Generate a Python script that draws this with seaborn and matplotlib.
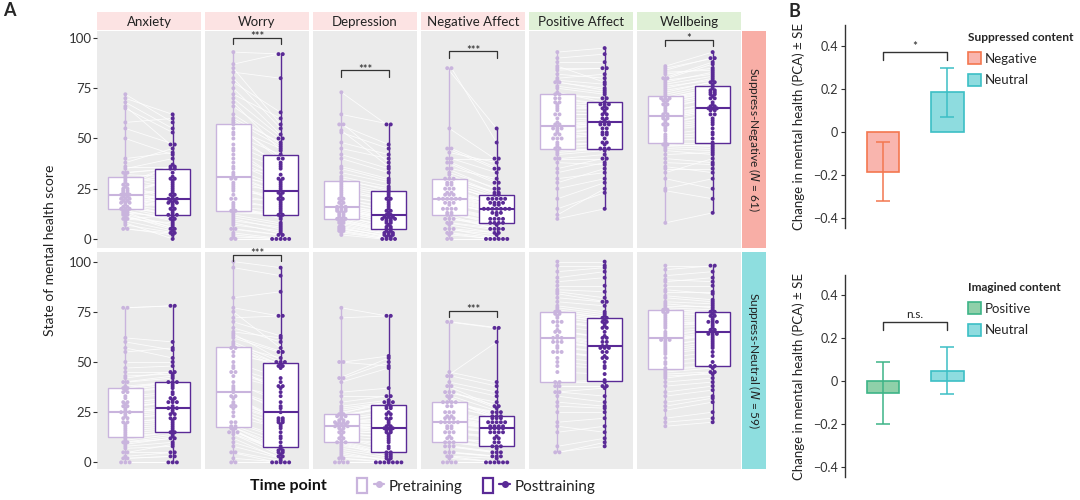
import numpy as np
import pandas as pd
import seaborn as sns
import matplotlib.pyplot as plt
from matplotlib.patches import Patch
from matplotlib.lines import Line2D
from matplotlib.legend_handler import HandlerTuple

sns.set_theme(style="white")
plt.rcParams["font.family"] = ["Lato", "DejaVu Sans"]

measures = ["Anxiety", "Worry", "Depression", "Negative Affect", "Positive Affect", "Wellbeing"]
group_labels = ["Suppress-Negative ($\\it{N}$ = 61)", "Suppress-Neutral ($\\it{N}$ = 59)"]
times = ["Pretraining", "Posttraining"]

# ---- Suppress-Negative group (N = 61), scores ----
neg_anxiety_pre = [22, 5, 33, 18, 66, 12, 25, 15, 28, 20, 72, 10, 30, 22, 16, 8, 38, 19, 24, 14,
                   58, 27, 11, 21, 35, 17, 5, 65, 23, 13, 31, 20, 9, 26, 18, 70, 15, 40, 22, 12,
                   29, 16, 55, 24, 7, 19, 33, 21, 14, 68, 27, 10, 36, 18, 23, 15, 50, 25, 20, 13, 32]
neg_anxiety_post = [20, 3, 35, 12, 47, 5, 28, 18, 36, 15, 58, 8, 25, 30, 12, 0, 45, 22, 19, 10,
                    60, 33, 6, 18, 40, 14, 2, 53, 20, 11, 27, 17, 4, 37, 21, 62, 13, 43, 24, 7,
                    30, 19, 47, 16, 3, 23, 35, 26, 9, 55, 18, 12, 36, 20, 29, 10, 42, 22, 15, 5, 31]
neg_worry_pre = [32, 0, 58, 14, 87, 20, 45, 10, 72, 28, 93, 5, 62, 35, 17, 2, 78, 25, 40, 12,
                 83, 50, 8, 30, 66, 16, 0, 75, 38, 15, 55, 22, 3, 47, 27, 85, 13, 60, 33, 7,
                 52, 18, 70, 42, 5, 24, 59, 31, 11, 80, 36, 9, 57, 20, 44, 14, 68, 30, 26, 1, 53]
neg_worry_post = [23, 0, 40, 12, 92, 15, 30, 5, 60, 17, 92, 2, 47, 26, 10, 0, 63, 20, 29, 8,
                  80, 38, 3, 22, 50, 14, 0, 52, 28, 11, 45, 18, 0, 37, 24, 57, 12, 48, 25, 4,
                  42, 16, 50, 30, 2, 21, 46, 27, 7, 55, 32, 6, 40, 19, 35, 13, 44, 23, 20, 0, 36]
neg_depression_pre = [15, 2, 28, 10, 73, 8, 20, 12, 45, 14, 62, 5, 33, 18, 10, 4, 53, 15, 22, 9,
                      57, 25, 6, 16, 36, 11, 3, 54, 19, 13, 30, 14, 7, 24, 17, 48, 10, 40, 15, 5,
                      29, 12, 35, 20, 4, 16, 31, 18, 8, 57, 21, 9, 27, 13, 23, 11, 42, 16, 14, 6, 26]
neg_depression_post = [10, 0, 23, 5, 57, 3, 16, 6, 40, 9, 57, 2, 28, 12, 4, 0, 45, 10, 17, 3,
                       47, 20, 1, 11, 30, 7, 0, 36, 14, 8, 24, 10, 2, 19, 13, 42, 5, 33, 11, 1,
                       25, 8, 29, 15, 0, 12, 26, 14, 4, 38, 18, 3, 22, 9, 20, 6, 35, 11, 10, 2, 21]
neg_negaff_pre = [20, 0, 32, 13, 85, 8, 25, 15, 45, 18, 85, 3, 35, 22, 10, 0, 55, 20, 28, 12,
                  43, 27, 5, 20, 38, 15, 2, 40, 23, 10, 30, 18, 5, 25, 20, 35, 13, 40, 22, 7,
                  30, 15, 33, 23, 3, 17, 28, 20, 10, 45, 25, 8, 30, 18, 22, 12, 38, 20, 15, 5, 27]
neg_negaff_post = [15, 0, 23, 8, 55, 5, 18, 10, 35, 13, 48, 0, 25, 17, 7, 0, 40, 15, 20, 5,
                   38, 20, 2, 15, 28, 10, 0, 40, 18, 8, 22, 13, 0, 17, 15, 30, 8, 33, 18, 3,
                   23, 10, 25, 15, 0, 13, 20, 15, 5, 35, 20, 5, 22, 12, 18, 8, 28, 15, 10, 3, 20]
neg_posaff_pre = [55, 10, 70, 45, 93, 35, 62, 42, 85, 50, 90, 25, 75, 57, 43, 15, 88, 52, 65, 40,
                  82, 68, 30, 55, 78, 48, 12, 80, 60, 45, 72, 53, 20, 66, 56, 86, 44, 76, 58, 38,
                  70, 50, 79, 62, 28, 54, 72, 57, 46, 84, 64, 40, 73, 52, 67, 47, 78, 55, 50, 33, 68]
neg_posaff_post = [58, 15, 67, 45, 95, 40, 62, 44, 85, 53, 92, 30, 72, 58, 45, 23, 88, 55, 65, 40,
                   80, 67, 33, 57, 75, 50, 25, 82, 60, 47, 70, 55, 28, 65, 58, 78, 45, 73, 60, 37,
                   67, 52, 77, 62, 35, 57, 70, 59, 48, 85, 63, 42, 68, 53, 66, 48, 74, 57, 52, 38, 64]
neg_wellbeing_pre = [61, 8, 70, 48, 86, 40, 65, 46, 80, 55, 84, 30, 73, 62, 47, 25, 82, 57, 67, 44,
                     78, 69, 35, 60, 75, 52, 24, 80, 63, 49, 71, 58, 33, 68, 61, 83, 47, 76, 64, 42,
                     70, 56, 77, 66, 38, 59, 72, 62, 50, 85, 67, 45, 74, 54, 69, 51, 79, 60, 57, 36, 70]
neg_wellbeing_post = [65, 13, 74, 48, 93, 38, 70, 45, 88, 58, 90, 25, 78, 66, 47, 30, 85, 62, 72, 42,
                      83, 73, 35, 64, 80, 55, 20, 87, 68, 50, 76, 62, 40, 72, 65, 84, 46, 79, 67, 43,
                      75, 59, 81, 70, 37, 64, 77, 66, 52, 90, 71, 44, 78, 57, 73, 53, 82, 65, 60, 33, 74]

# ---- Suppress-Neutral group (N = 59) ----
neu_anxiety_pre = [25, 0, 37, 12, 77, 5, 30, 10, 55, 20, 77, 2, 42, 27, 9, 0, 62, 22, 35, 14,
                   57, 33, 3, 25, 45, 16, 0, 50, 28, 11, 38, 20, 7, 32, 24, 47, 13, 40, 26, 5,
                   35, 18, 43, 29, 2, 22, 37, 25, 10, 60, 30, 8, 36, 19, 28, 15, 40, 23, 17]
neu_anxiety_post = [27, 0, 40, 15, 78, 5, 32, 13, 57, 22, 78, 3, 45, 30, 12, 0, 60, 24, 37, 16,
                    52, 35, 5, 27, 45, 18, 0, 50, 30, 14, 40, 22, 8, 34, 26, 48, 15, 43, 28, 9,
                    38, 20, 44, 31, 3, 24, 40, 27, 12, 56, 32, 10, 39, 21, 30, 17, 42, 25, 19]
neu_worry_pre = [33, 0, 57, 17, 100, 10, 45, 15, 82, 28, 97, 5, 62, 37, 15, 0, 77, 25, 50, 18,
                 72, 53, 8, 33, 65, 20, 2, 70, 40, 16, 58, 28, 12, 47, 30, 75, 17, 60, 35, 5,
                 55, 23, 63, 43, 14, 32, 57, 38, 18, 67, 45, 15, 59, 27, 48, 20, 64, 36, 29]
neu_worry_post = [22, 0, 49, 5, 97, 3, 38, 6, 85, 15, 93, 0, 55, 25, 7, 0, 73, 18, 42, 8,
                  73, 50, 2, 20, 62, 12, 0, 63, 30, 4, 52, 21, 0, 40, 22, 57, 6, 50, 27, 1,
                  48, 17, 55, 37, 3, 20, 47, 33, 10, 60, 38, 5, 48, 19, 35, 13, 50, 28, 21]
neu_depression_pre = [18, 0, 23, 10, 77, 3, 20, 8, 42, 15, 72, 0, 30, 19, 9, 0, 50, 17, 22, 12,
                      50, 24, 2, 18, 35, 11, 0, 42, 20, 10, 25, 16, 4, 21, 18, 33, 10, 27, 19, 5,
                      23, 14, 28, 20, 2, 17, 24, 19, 7, 40, 21, 6, 23, 15, 20, 12, 26, 18, 13]
neu_depression_post = [17, 0, 27, 4, 73, 2, 22, 5, 52, 12, 73, 0, 33, 18, 3, 0, 48, 15, 25, 7,
                       53, 30, 0, 16, 37, 10, 0, 50, 20, 4, 29, 14, 1, 24, 17, 33, 5, 30, 19, 0,
                       28, 13, 31, 22, 0, 16, 27, 18, 3, 47, 24, 2, 28, 15, 21, 8, 30, 17, 11]
neu_negaff_pre = [20, 0, 32, 10, 70, 5, 25, 8, 45, 15, 70, 0, 38, 22, 8, 0, 43, 18, 28, 13,
                  40, 30, 3, 20, 35, 12, 0, 38, 23, 10, 33, 17, 3, 25, 20, 35, 10, 30, 22, 5,
                  30, 15, 33, 23, 2, 18, 28, 20, 8, 43, 25, 5, 30, 17, 22, 12, 35, 20, 15]
neu_negaff_post = [17, 0, 22, 8, 67, 3, 20, 5, 40, 12, 67, 0, 28, 18, 5, 0, 60, 15, 23, 8,
                   35, 25, 0, 17, 30, 10, 0, 33, 20, 7, 22, 15, 2, 20, 17, 28, 8, 25, 18, 3,
                   23, 13, 25, 20, 0, 15, 22, 18, 5, 38, 20, 3, 23, 15, 18, 10, 27, 17, 12]
neu_posaff_pre = [60, 5, 74, 40, 100, 30, 65, 38, 90, 52, 95, 8, 78, 62, 35, 15, 88, 55, 70, 33,
                  85, 73, 20, 60, 80, 45, 5, 92, 66, 40, 75, 58, 25, 70, 62, 86, 38, 77, 65, 28,
                  74, 55, 82, 68, 18, 60, 76, 63, 48, 98, 70, 35, 75, 57, 72, 50, 84, 62, 55]
neu_posaff_post = [57, 8, 70, 41, 100, 28, 63, 38, 92, 50, 97, 12, 75, 58, 37, 18, 88, 53, 67, 30,
                   82, 70, 22, 57, 78, 44, 10, 95, 62, 40, 72, 55, 25, 67, 60, 85, 38, 74, 62, 27,
                   71, 52, 80, 65, 15, 57, 73, 60, 47, 98, 68, 33, 72, 55, 69, 48, 80, 58, 52]
neu_wellbeing_pre = [61, 18, 75, 46, 98, 35, 68, 44, 90, 55, 96, 22, 79, 63, 42, 26, 88, 57, 72, 40,
                     85, 74, 30, 60, 82, 50, 20, 93, 67, 47, 76, 58, 33, 71, 62, 86, 45, 78, 65, 38,
                     75, 56, 83, 69, 28, 61, 77, 64, 52, 91, 73, 43, 76, 59, 70, 49, 80, 61, 54]
neu_wellbeing_post = [64, 20, 73, 48, 98, 38, 70, 45, 92, 58, 98, 25, 77, 66, 45, 30, 88, 60, 71, 42,
                      85, 73, 33, 64, 80, 53, 22, 95, 68, 48, 75, 62, 36, 70, 65, 84, 47, 78, 67, 40,
                      74, 59, 81, 69, 32, 64, 76, 66, 55, 90, 72, 44, 75, 61, 70, 50, 79, 63, 57]

# significance brackets in panel A: measure -> (height, label)
sig_negative = {"Worry": (100, "***"), "Depression": (84, "***"),
                "Negative Affect": (93.5, "***"), "Wellbeing": (99, "*")}
sig_neutral = {"Worry": (103.3, "***"), "Negative Affect": (75.5, "***")}

# panel B: change in mental health (PCA) +- SE
supp_labels = ["Negative", "Neutral"]
supp_mean = [-0.185, 0.183]
supp_se = [0.137, 0.113]
imag_labels = ["Positive", "Neutral"]
imag_mean = [-0.055, 0.050]
imag_se = [0.145, 0.110]

rows = [
    {"Anxiety": (neg_anxiety_pre, neg_anxiety_post), "Worry": (neg_worry_pre, neg_worry_post),
     "Depression": (neg_depression_pre, neg_depression_post),
     "Negative Affect": (neg_negaff_pre, neg_negaff_post),
     "Positive Affect": (neg_posaff_pre, neg_posaff_post),
     "Wellbeing": (neg_wellbeing_pre, neg_wellbeing_post)},
    {"Anxiety": (neu_anxiety_pre, neu_anxiety_post), "Worry": (neu_worry_pre, neu_worry_post),
     "Depression": (neu_depression_pre, neu_depression_post),
     "Negative Affect": (neu_negaff_pre, neu_negaff_post),
     "Positive Affect": (neu_posaff_pre, neu_posaff_post),
     "Wellbeing": (neu_wellbeing_pre, neu_wellbeing_post)},
]
sigs = [sig_negative, sig_neutral]

pre_color = "#C9B4DD"
post_color = "#5A2A96"
panel_bg = "#EBEBEB"
text_col = "#222222"

W, H = 1080, 500
fig = plt.figure(figsize=(W / 100, H / 100), dpi=100)


def px_axes(x0, y0, x1, y1):
    return fig.add_axes([x0 / W, 1 - y1 / H, (x1 - x0) / W, (y1 - y0) / H])


def dup_offsets(vals, step=0.09):
    out = np.zeros(len(vals))
    for v in np.unique(vals):
        idx = np.where(vals == v)[0]
        out[idx] = (np.arange(len(idx)) - (len(idx) - 1) / 2) * step
    return out


col_left = [97, 205, 313, 421, 529, 637]
col_w = 104
row_top = [31, 252]
row_h = 217
ylims = [(-4.5, 103.5), (-3.3, 104.8)]
header_cols = ["#FCE3E3"] * 4 + ["#DFF0D6"] * 2
strip_cols = ["#F8AEA6", "#8EDEDF"]

# header strips first so that brackets/stars may overlap them
for c, m in enumerate(measures):
    hax = px_axes(col_left[c], 12, col_left[c] + col_w, 30)
    hax.set_facecolor(header_cols[c])
    hax.set_xticks([])
    hax.set_yticks([])
    for s in hax.spines.values():
        s.set_visible(False)
    hax.text(0.5, 0.45, m, ha="center", va="center", fontsize=9.5,
             color=text_col, transform=hax.transAxes)

for r in range(2):
    for c, m in enumerate(measures):
        ax = px_axes(col_left[c], row_top[r], col_left[c] + col_w, row_top[r] + row_h)
        ax.set_facecolor(panel_bg)
        pre = np.array(rows[r][m][0], dtype=float)
        post = np.array(rows[r][m][1], dtype=float)
        df = pd.DataFrame({"t": [0] * len(pre) + [1] * len(post),
                           "score": np.r_[pre, post]})
        df["xpos"] = df["t"] + np.r_[dup_offsets(pre), dup_offsets(post)]
        xa = df["xpos"].values[:len(pre)]
        xb = df["xpos"].values[len(pre):]

        # paired lines
        for i in range(min(len(pre), len(post))):
            ax.plot([xa[i], xb[i]], [pre[i], post[i]], color="white", lw=0.6, alpha=0.85, zorder=0.5)

        for t, col in enumerate([pre_color, post_color]):
            sns.boxplot(data=df[df["t"] == t], x="t", y="score", order=[0, 1],
                        color="white", linecolor=col, linewidth=1.0, width=0.74,
                        whis=(0, 100), showfliers=False, showcaps=False, saturation=1,
                        medianprops={"linewidth": 1.5}, ax=ax)

        sns.scatterplot(data=df, x="xpos", y="score", hue="t",
                        palette=[pre_color, post_color], s=8, linewidth=0,
                        legend=False, ax=ax, zorder=3)

        if m in sigs[r]:
            h, lab = sigs[r][m]
            ax.plot([0, 0, 1, 1], [h - 3.2, h, h, h - 3.2], color="#333333", lw=0.9,
                    clip_on=False, zorder=4)
            ax.text(0.5, h - 1.2, lab, ha="center", va="baseline", fontsize=8,
                    color="#222222", clip_on=False, zorder=5)

        ax.set_xlim(-0.6, 1.6)
        ax.set_ylim(*ylims[r])
        ax.set_xticks([])
        ax.set_xlabel("")
        ax.set_ylabel("")
        if c == 0:
            ax.set_yticks([0, 25, 50, 75, 100])
            ax.tick_params(axis="y", length=3, width=0.8, color="#333333",
                           labelsize=9.5, labelcolor="#333333", pad=1, left=True)
        else:
            ax.set_yticks([])
        for s in ax.spines.values():
            s.set_visible(False)

    sax = px_axes(742, row_top[r], 766, row_top[r] + row_h)
    sax.set_facecolor(strip_cols[r])
    sax.set_xticks([])
    sax.set_yticks([])
    for s in sax.spines.values():
        s.set_visible(False)
    sax.text(0.5, 0.5, group_labels[r], rotation=270, ha="center", va="center",
             fontsize=8.6, color=text_col, transform=sax.transAxes)

fig.text(50 / W, 0.5, "State of mental health score", rotation=90, ha="center",
         va="center", fontsize=10, color=text_col)

# time point legend
fig.text(250 / W, 1 - 486 / H, "Time point", fontsize=11.5, fontweight="bold",
         ha="left", va="center", color="#111111")
handles = []
for col in [pre_color, post_color]:
    handles.append((Patch(facecolor="white", edgecolor=col, linewidth=1.6),
                    Line2D([], [], color=col, lw=1.6, marker="o", markersize=4)))
fig.legend(handles, times, handler_map={tuple: HandlerTuple(ndivide=None)},
           ncol=2, loc="center left", bbox_to_anchor=(343 / W, 1 - 486 / H),
           frameon=False, fontsize=11, handlelength=1.8, handleheight=1.1,
           handletextpad=0.3, columnspacing=1.3, labelcolor="#222222")

fig.text(3 / W, 1 - 2 / H, "A", fontsize=13, fontweight="bold", ha="left", va="top")
fig.text(789 / W, 1 - 3 / H, "B", fontsize=13, fontweight="bold", ha="left", va="top")

# panel B
bar_specs = [
    (supp_labels, supp_mean, supp_se, ["#F9B5AE", "#8EDCDF"], ["#F3774F", "#3CBFC5"],
     "Suppressed content", (25, 228), (0.37, "*", 0.010)),
    (imag_labels, imag_mean, imag_se, ["#8FD0A9", "#8EDCDF"], ["#3DB487", "#3CBFC5"],
     "Imagined content", (275, 477), (0.274, "n.s.", 0.022)),
]
for labels, means, ses, fills, edges, title, (y0, y1), (bh, blab, bpad) in bar_specs:
    bax = px_axes(845, y0, 978, y1)
    bdf = pd.DataFrame({"content": labels, "change": means, "se": ses})
    sns.barplot(data=bdf, x="content", y="change", hue="content", palette=fills,
                saturation=1, width=0.51, legend=False, ax=bax)
    for patch, ec in zip(bax.patches, edges):
        patch.set_edgecolor(ec)
        patch.set_linewidth(1.2)
    for i in range(len(labels)):
        bax.errorbar(i, means[i], yerr=ses[i], fmt="none", ecolor=edges[i],
                     elinewidth=1.1, capsize=5, capthick=1.1)
    bax.plot([0, 0, 1, 1], [bh - 0.035, bh, bh, bh - 0.035], color="#333333", lw=1.0)
    bax.text(0.5, bh + bpad, blab, ha="center", va="baseline", fontsize=8.5, color="#222222")
    bax.set_xlim(-0.59, 1.48)
    bax.set_ylim(-0.445, 0.495)
    bax.set_yticks([-0.4, -0.2, 0, 0.2, 0.4])
    bax.set_yticklabels(["\u22120.4", "\u22120.2", "0", "0.2", "0.4"])
    bax.set_xticks([])
    bax.set_xlabel("")
    bax.set_ylabel("Change in mental health (PCA) \u00b1 SE", fontsize=9.5,
                   color=text_col, labelpad=6)
    bax.tick_params(axis="y", length=3, width=0.8, color="#333333", labelsize=9,
                    labelcolor="#333333", left=True, pad=2)
    for side in ["top", "right", "bottom"]:
        bax.spines[side].set_visible(False)
    bax.spines["left"].set_color("#333333")
    bax.spines["left"].set_linewidth(1.0)
    bax.set_facecolor("white")
    leg_handles = [Patch(facecolor=f, edgecolor=e, linewidth=1.2) for f, e in zip(fills, edges)]
    bax.legend(leg_handles, labels, title=title, loc="upper left",
               bbox_to_anchor=(956 / W, 1 - (y0 - 5) / H),
               bbox_transform=fig.transFigure, frameon=False, fontsize=9.5,
               title_fontproperties={"weight": "bold", "size": 8.6},
               alignment="left", handlelength=1.0, handleheight=1.0,
               handletextpad=0.3, labelspacing=0.7)

fig.savefig("out.png", dpi=100)
